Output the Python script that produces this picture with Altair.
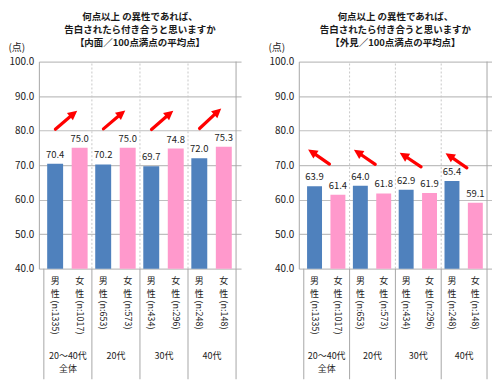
import math
import altair as alt
import pandas as pd

# ---------------- data ----------------
groups_l1 = ["20～40代", "20代", "30代", "40代"]
groups_l2 = ["全体", "", "", ""]
genders = ["男性", "女性"]
male_n = ["1335", "653", "434", "248"]
female_n = ["1017", "573", "296", "148"]

inner_male = [70.4, 70.2, 69.7, 72.0]
inner_female = [75.0, 75.0, 74.8, 75.3]
looks_male = [63.9, 64.0, 62.9, 65.4]
looks_female = [61.4, 61.8, 61.9, 59.1]

# annotation arrows (value at tail / head)
inner_arrow_tail = [80.4, 80.5, 80.3, 80.6]
inner_arrow_head = [84.8, 84.9, 84.8, 85.4]
looks_arrow_tail = [70.3, 70.2, 69.5, 69.2]
looks_arrow_head = [73.7, 73.6, 72.8, 72.6]

y_ticks = [40, 50, 60, 70, 80, 90, 100]

title_inner = ["何点以上 の異性であれば、", "告白されたら付き合うと思いますか", "【内面／100点満点の平均点】"]
title_looks = ["何点以上 の異性であれば、", "告白されたら付き合うと思いますか", "【外見／100点満点の平均点】"]

# ---------------- style ----------------
FONT = "Noto Sans CJK JP"
BLUE = "#4F81BD"
PINK = "#FF99CC"
GRID = "#bfbfbf"
H = 208
MALE_OFF, FEMALE_OFF = 0.235, 0.745
YMIN, YMAX = y_ticks[0], y_ticks[-1]


def panel(titles, mvals, fvals, a_tail, a_head, tail_off, head_off, width, bar_size):
    rows = []
    for i in range(4):
        rows.append(dict(pos=i + MALE_OFF, v=mvals[i], base=YMIN, g="男性", c1="男", c2="性", n=f"(n:{male_n[i]})"))
        rows.append(dict(pos=i + FEMALE_OFF, v=fvals[i], base=YMIN, g="女性", c1="女", c2="性", n=f"(n:{female_n[i]})"))
    bars_df = pd.DataFrame(rows)
    grp_df = pd.DataFrame(dict(c=[i + 0.5 for i in range(4)], l1=groups_l1, l2=groups_l2))
    gw = width / 4.0
    arr = []
    for i in range(4):
        dx = (head_off - tail_off) * gw
        dv = (a_head[i] - a_tail[i]) * H / 60.0
        ang = math.degrees(math.atan2(dx, dv)) % 360
        arr.append(dict(x1=i + tail_off, x2=i + head_off, y1=a_tail[i], y2=a_head[i], ang=ang))
    arr_df = pd.DataFrame(arr)
    bnd_df = pd.DataFrame(dict(b=[0, 1, 2, 3, 4]))
    inner_df = pd.DataFrame(dict(b=[1, 2, 3], lo=[YMIN] * 3, hi=[YMAX] * 3))
    right_df = pd.DataFrame(dict(b=[4], lo=[YMIN], hi=[YMAX]))

    xs = alt.Scale(domain=[0, 4], nice=False, zero=False)
    ys = alt.Scale(domain=[YMIN, YMAX], nice=False, zero=False)
    yaxis = alt.Axis(
        values=y_ticks, format=".1f", grid=True, labelOverlap=False,
        gridColor=GRID, gridWidth=1.2, ticks=False, domainColor="#a6a6a6",
        labelFontSize=10, labelColor="#222", labelPadding=5,
        title="(点)", titleAngle=0, titleX=-31, titleY=-14, titleAlign="left",
        titleBaseline="middle", titleFontSize=10, titleFontWeight="normal",
        titleColor="#222")

    def X(f):
        return alt.X(f, scale=xs, axis=None)

    def Y(f):
        return alt.Y(f, scale=ys, axis=yaxis)

    base_bar = alt.Chart(bars_df)
    bars = base_bar.mark_bar(size=bar_size).encode(
        x=X("pos:Q"),
        y=Y("v:Q"),
        y2="base:Q",
        color=alt.Color("g:N", scale=alt.Scale(domain=genders, range=[BLUE, PINK]), legend=None),
    )
    vlabels = base_bar.mark_text(baseline="bottom", dy=-4, fontSize=9.5, color="#222").encode(
        x=X("pos:Q"), y=Y("v:Q"), text=alt.Text("v:Q", format=".1f"))

    dashed = alt.Chart(inner_df).mark_rule(color="#c8c8c8", strokeDash=[2, 2]).encode(
        x=X("b:Q"), y=Y("lo:Q"), y2="hi:Q")
    below = alt.Chart(bnd_df).mark_rule(color="#a6a6a6").encode(
        x=X("b:Q"), y=alt.value(H), y2=alt.value(H + 111))
    rframe = alt.Chart(right_df).mark_rule(color="#a6a6a6").encode(
        x=X("b:Q"), y=Y("lo:Q"), y2="hi:Q")

    arrow_line = alt.Chart(arr_df).mark_rule(color="#ff0000", strokeWidth=3.2, strokeCap="round").encode(
        x=X("x1:Q"), x2="x2:Q", y=Y("y1:Q"), y2="y2:Q")
    arrow_head = alt.Chart(arr_df).mark_point(
        shape="M0,-1L0.9,0.8L-0.9,0.8Z", filled=True, color="#ff0000", opacity=1, size=110).encode(
        x=X("x2:Q"), y=Y("y2:Q"), angle=alt.Angle("ang:Q", scale=None))

    txt = dict(fontSize=9, color="#222", baseline="middle")
    gc1 = base_bar.mark_text(**txt).encode(x=X("pos:Q"), y=alt.value(H + 12), text="c1:N")
    gc2 = base_bar.mark_text(**txt).encode(x=X("pos:Q"), y=alt.value(H + 25), text="c2:N")
    gn = base_bar.mark_text(angle=90, align="left", baseline="middle", fontSize=9, color="#222").encode(
        x=X("pos:Q"), y=alt.value(H + 32), text="n:N")
    gl1 = alt.Chart(grp_df).mark_text(**txt).encode(x=X("c:Q"), y=alt.value(H + 88), text="l1:N")
    gl2 = alt.Chart(grp_df).mark_text(**txt).encode(x=X("c:Q"), y=alt.value(H + 101), text="l2:N")

    return alt.layer(bars, dashed, below, rframe, vlabels, arrow_line, arrow_head,
                     gc1, gc2, gn, gl1, gl2).properties(
        width=width, height=H,
        title=alt.TitleParams(text=titles, fontSize=9.5, fontWeight="bold", lineHeight=13,
                              anchor="middle", frame="group", color="#1a1a1a", offset=-5, font=FONT),
    )


left = panel(title_inner, inner_male, inner_female, inner_arrow_tail, inner_arrow_head, 0.24, 0.61, 203, 16)
right = panel(title_looks, looks_male, looks_female, looks_arrow_tail, looks_arrow_head, 0.56, 0.19, 194, 15)

chart = alt.hconcat(left, right, spacing=27).properties(
    padding={"top": 3, "left": 0, "right": 0, "bottom": 0}
).configure(font=FONT).configure_view(stroke=None)

chart.save("out.html", embed_options={"renderer": "svg", "actions": False})
